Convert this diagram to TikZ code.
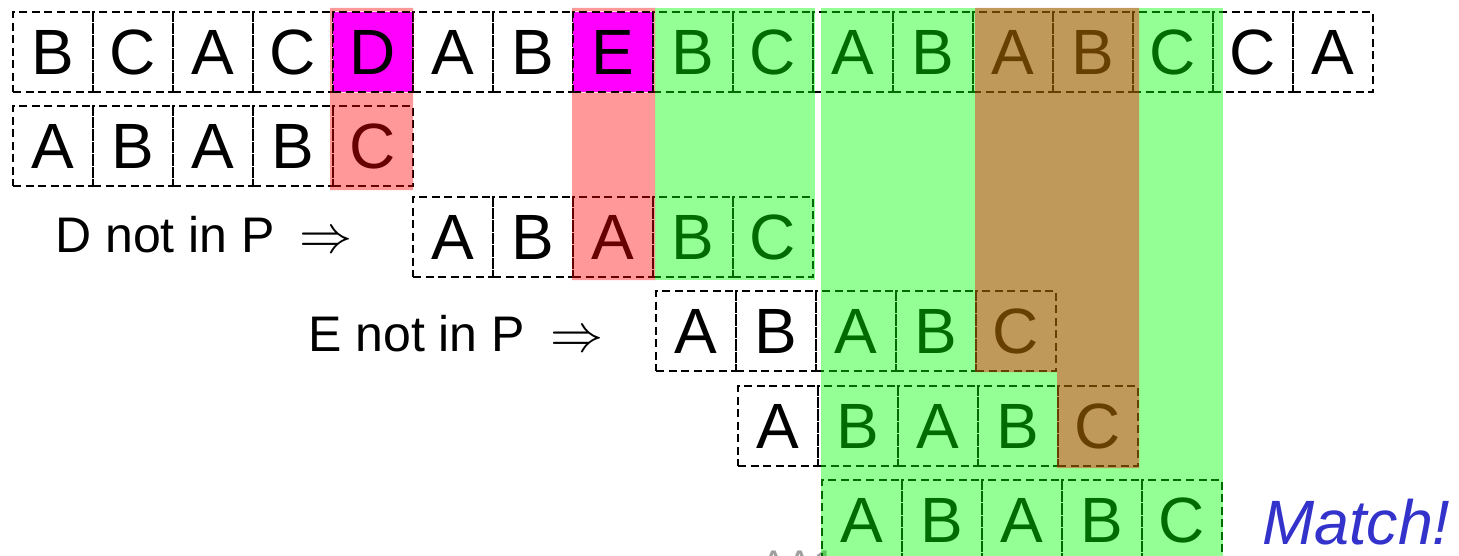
\documentclass[tikz,border=0pt]{standalone}
\usepackage{fontspec}
\setmainfont{Liberation Sans}
\begin{document}
\begin{tikzpicture}[x=0.75pt,y=-0.75pt,
  cell/.style={draw, dash pattern=on 6pt off 3.4pt, line width=1.1pt,
    minimum width=60pt, minimum height=60pt, inner sep=0pt,
    font=\fontsize{48}{48}\selectfont},
  hit/.style={cell, fill=hitmagenta},
  label/.style={anchor=base west, inner sep=0pt, font=\fontsize{37.5}{37.5}\selectfont},
  greenband/.style={fill=bandgreen, fill opacity=0.42},
  redband/.style={fill=bandred, fill opacity=0.4},
  footer/.style={anchor=base west, inner sep=0pt, text=black!38, font=\fontsize{30}{30}\selectfont},
  matchtext/.style={anchor=base west, inner sep=0pt, text=matchblue, font=\fontsize{47}{47}\selectfont\itshape}
]
\definecolor{matchblue}{RGB}{51,51,204}
\definecolor{hitmagenta}{RGB}{255,0,255}
\definecolor{bandgreen}{RGB}{0,255,0}
\definecolor{bandred}{RGB}{255,0,0}
\newcommand{\impl}{\scalebox{1.6}{$\Rightarrow$}}
\useasboundingbox (0,0) rectangle (1459,556);
\begin{scope}
\clip (0,0) rectangle (1459,556);

% slide footer, partly hidden
\node[footer] (foot) at (760,578) {AA1};

% text row
\foreach \ch [count=\i from 0] in {B,C,A,C,D,A,B,E,B,C,A,B,A,B,C,C,A}{
  \ifnum\i=4 \node[hit] (t\i) at ({53+80*\i},52) {\ch};
  \else\ifnum\i=7 \node[hit] (t\i) at ({53+80*\i},52) {\ch};
  \else \node[cell] (t\i) at ({53+80*\i},52) {\ch};
  \fi\fi
}

% pattern, shifted along the text
\foreach \ch [count=\i from 0] in {A,B,A,B,C}{
  \node[cell] (a\i) at ({53+80*\i},146) {\ch};
  \node[cell] (b\i) at ({453+80*\i},237) {\ch};
  \node[cell] (c\i) at ({696+80*\i},331) {\ch};
  \node[cell] (d\i) at ({778+80*\i},426) {\ch};
  \node[cell] (e\i) at ({862+80*\i},520) {\ch};
}

\node[label] (skipd) at (55,252) {D not in P\hspace{0.5em}\impl};
\node[label] (skipe) at (308,351) {E not in P\hspace{0.5em}\impl};

% comparison bands
\fill[greenband] (655,8) rectangle (815,280);
\fill[greenband] (821,8) rectangle (1223,560);
\fill[redband, even odd rule] (330,8) rectangle (413,190)
  (t4.north west) rectangle (t4.south east);
\fill[redband, even odd rule] (572,8) rectangle (655,280)
  (t7.north west) rectangle (t7.south east);
\fill[redband] (975,8) -- (1139,8) -- (1139,468) -- (1057,468)
  -- (1057,372) -- (975,372) -- cycle;

\node[matchtext] (match) at (1262,544) {Match!};
\end{scope}
\end{tikzpicture}
\end{document}
